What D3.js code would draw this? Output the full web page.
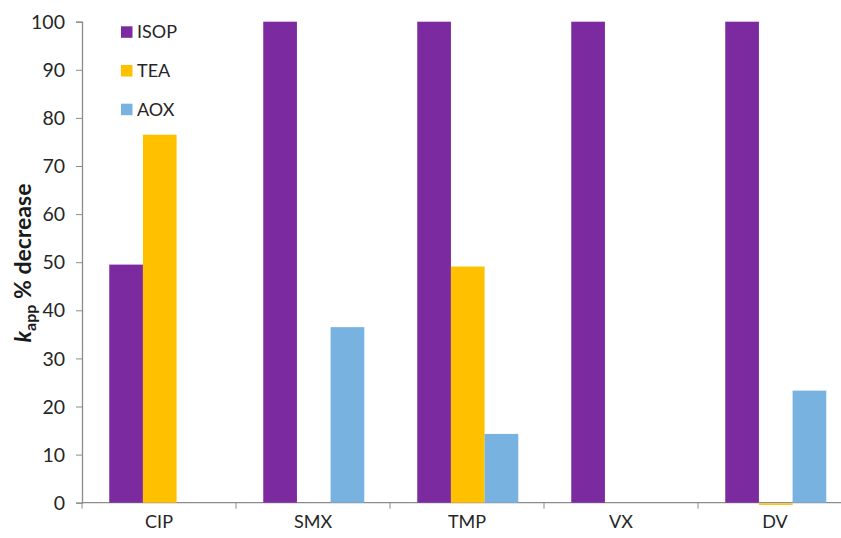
<!DOCTYPE html>
<html>
<head>
<meta charset="utf-8">
<script src="https://cdn.jsdelivr.net/npm/d3@7"></script>
<style>
  html, body { margin: 0; padding: 0; background: #fff; }
  svg { display: block; }
  .tick text { font-family: Lato, "Open Sans", sans-serif; fill: #262626; }
</style>
</head>
<body>
<script>
// Compounds and treatments
const categories = ["CIP", "SMX", "TMP", "VX", "DV"];
const seriesNames = ["ISOP", "TEA", "AOX"];
const isopValues = [49.5, 100, 100, 100, 100];
const teaValues = [76.5, 0, 49.1, 0, -0.3];
const aoxValues = [0, 36.5, 14.3, 0, 23.3];
const yTicks = [0, 10, 20, 30, 40, 50, 60, 70, 80, 90, 100];
const colors = ["#7B2A9F", "#FFC000", "#78B2E0"];

const seriesValues = [isopValues, teaValues, aoxValues];

const W = 841, H = 538;
const svg = d3.select("body").append("svg").attr("width", W).attr("height", H);

const x0 = d3.scaleBand().domain(categories).range([82, 852]).padding(0);
const bw = x0.bandwidth();
const x1 = d3.scaleBand().domain(seriesNames).range([bw * 0.177, bw * 0.833]).padding(0);
const y = d3.scaleLinear().domain([0, 100]).range([502.7, 21.7]);
const color = d3.scaleOrdinal().domain(seriesNames).range(colors);

// Y axis
const yAxis = svg.append("g").attr("transform", "translate(82,0)")
  .call(d3.axisLeft(y).tickValues(yTicks).tickSize(6).tickPadding(11));
yAxis.select(".domain").attr("stroke", "#8c8c8c").attr("stroke-width", 1.3);
yAxis.selectAll(".tick line").attr("stroke", "#8c8c8c");
yAxis.selectAll(".tick text").attr("font-size", 19.5).attr("dy", "0.34em");

// X axis: line across, tick marks at category boundaries, labels at centres
const xg = svg.append("g").attr("transform", `translate(0,${y(0)})`);
xg.append("line").attr("x1", 82).attr("x2", W).attr("stroke", "#8c8c8c").attr("stroke-width", 1.3);
xg.selectAll("line.b").data(categories).join("line").attr("class", "b")
  .attr("x1", d => x0(d)).attr("x2", d => x0(d)).attr("y1", 0).attr("y2", 6)
  .attr("stroke", "#8c8c8c");
const xAxis = xg.append("g").call(d3.axisBottom(x0).tickSize(0).tickPadding(13));
xAxis.select(".domain").remove();
xAxis.selectAll(".tick text").attr("font-size", 18);

// Bars
const rows = categories.map((c, i) => ({ cat: c, vals: seriesNames.map((s, j) => ({ s, v: seriesValues[j][i] })) }));
const groups = svg.append("g").selectAll("g").data(rows).join("g")
  .attr("transform", d => `translate(${x0(d.cat)},0)`);
groups.selectAll("rect").data(d => d.vals.filter(e => e.v !== 0)).join("rect")
  .attr("x", d => x1(d.s))
  .attr("width", x1.bandwidth())
  .attr("y", d => d.v >= 0 ? y(d.v) : y(0) + 0.7)
  .attr("height", d => d.v >= 0 ? y(0) - y(d.v) : Math.max(1.5, y(d.v) - y(0)))
  .attr("fill", d => color(d.s));

// Y axis title
const title = svg.append("text")
  .attr("transform", "translate(31,263) rotate(-90)")
  .attr("text-anchor", "middle")
  .attr("font-family", "Lato, 'Open Sans', sans-serif")
  .attr("font-weight", "bold")
  .attr("font-size", 23)
  .attr("fill", "#1a1a1a");
title.append("tspan").attr("font-style", "italic").text("k");
title.append("tspan").attr("font-size", 16).attr("dy", 5).text("app");
title.append("tspan").attr("dy", -5).text(" % decrease");

// Legend
const legend = svg.append("g").selectAll("g").data(seriesNames).join("g")
  .attr("transform", (d, i) => `translate(121,${32 + i * 38.7})`);
legend.append("rect").attr("x", 0).attr("y", -5.7).attr("width", 11.5).attr("height", 11.5)
  .attr("fill", d => color(d));
legend.append("text").attr("x", 16).attr("y", 0).attr("dy", "0.35em")
  .attr("font-family", "Lato, 'Open Sans', sans-serif").attr("font-size", 18)
  .attr("fill", "#262626").text(d => d);
</script>
</body>
</html>
